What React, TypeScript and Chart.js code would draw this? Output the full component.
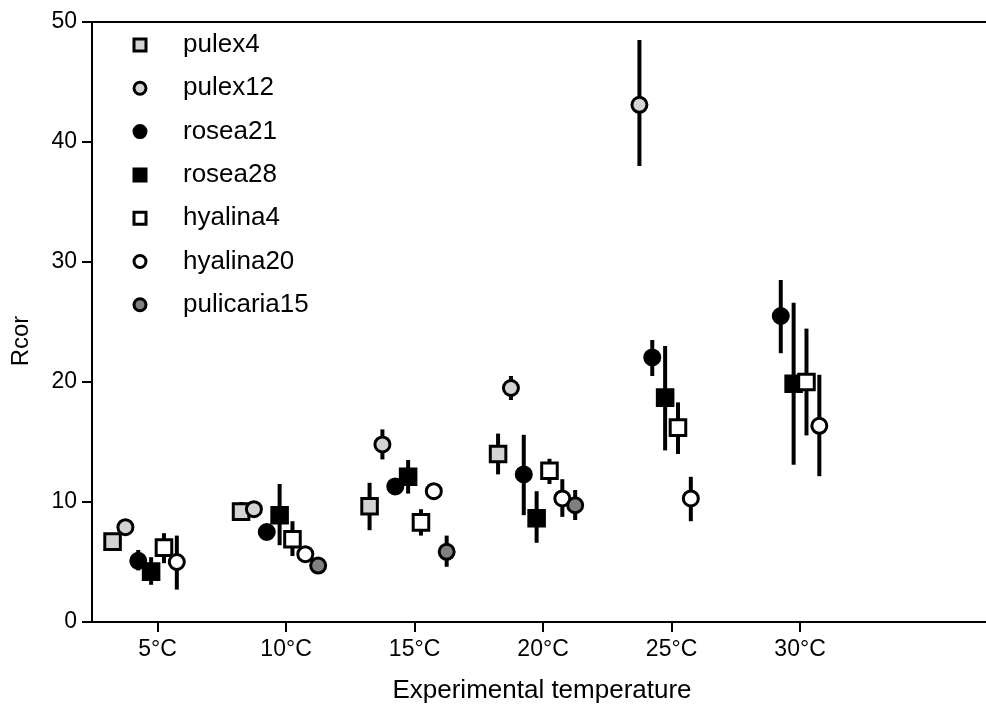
import React, { useEffect, useRef } from "react";
import { Chart, registerables } from "chart.js";

Chart.register(...registerables);

const categories = ["5°C", "10°C", "15°C", "20°C", "25°C", "30°C"];
const seriesNames = ["pulex4", "pulex12", "rosea21", "rosea28", "hyalina4", "hyalina20", "pulicaria15"];
const offsets = [-0.35, -0.25, -0.15, -0.05, 0.05, 0.15, 0.25];

const pulex4 = [6.7, 9.2, 9.65, 14.0, null, null];
const pulex4Lo = [6.2, 8.5, 7.65, 12.3, null, null];
const pulex4Hi = [7.2, 10.0, 11.6, 15.7, null, null];

const pulex12 = [7.9, 9.4, 14.8, 19.5, 43.1, null];
const pulex12Lo = [7.6, 9.0, 13.55, 18.5, 38.0, null];
const pulex12Hi = [8.2, 9.8, 16.05, 20.5, 48.5, null];

const rosea21 = [5.1, 7.5, 11.3, 12.3, 22.05, 25.5];
const rosea21Lo = [4.3, 7.1, 10.9, 8.9, 20.5, 22.4];
const rosea21Hi = [6.0, 7.9, 11.7, 15.6, 23.5, 28.5];

const rosea28 = [4.2, 8.9, 12.1, 8.65, 18.7, 19.85];
const rosea28Lo = [3.1, 6.4, 10.7, 6.6, 14.3, 13.1];
const rosea28Hi = [5.4, 11.5, 13.5, 10.9, 23.0, 26.6];

const hyalina4 = [6.2, 6.9, 8.3, 12.6, 16.2, 20.0];
const hyalina4Lo = [4.9, 5.5, 7.2, 11.5, 14.0, 15.55];
const hyalina4Hi = [7.4, 8.4, 9.4, 13.6, 18.3, 24.45];

const hyalina20 = [5.0, 5.65, 10.9, 10.3, 10.3, 16.35];
const hyalina20Lo = [2.7, 5.2, 10.5, 8.76, 8.4, 12.15];
const hyalina20Hi = [7.2, 6.1, 11.3, 11.9, 12.1, 20.6];

const pulicaria15 = [null, 4.7, 5.85, 9.73, null, null];
const pulicaria15Lo = [null, 4.3, 4.6, 8.5, null, null];
const pulicaria15Hi = [null, 5.1, 7.2, 11.0, null, null];

const yTicks = [0, 10, 20, 30, 40, 50];

const values = [pulex4, pulex12, rosea21, rosea28, hyalina4, hyalina20, pulicaria15];
const lows = [pulex4Lo, pulex12Lo, rosea21Lo, rosea28Lo, hyalina4Lo, hyalina20Lo, pulicaria15Lo];
const highs = [pulex4Hi, pulex12Hi, rosea21Hi, rosea28Hi, hyalina4Hi, hyalina20Hi, pulicaria15Hi];

const fills = ["#d3d3d3", "#d3d3d3", "#000000", "#000000", "#ffffff", "#ffffff", "#808080"];
const shapes = ["rect", "circle", "circle", "rect", "rect", "circle", "circle"];

const FONT = "'Liberation Sans', Arial, sans-serif";
const X_TITLE = "Experimental temperature";
const Y_TITLE = "Rcor";

const errorBarPlugin = {
  id: "errorBars",
  beforeDatasetsDraw(chart: any) {
    const { ctx, scales } = chart;
    ctx.save();
    ctx.strokeStyle = "#000";
    ctx.lineWidth = 4;
    ctx.lineCap = "butt";
    values.forEach((_, s) => {
      categories.forEach((_c, i) => {
        const lo = lows[s][i];
        const hi = highs[s][i];
        if (lo == null || hi == null) return;
        const x = scales.x.getPixelForValue(i + offsets[s]);
        ctx.beginPath();
        ctx.moveTo(x, scales.y.getPixelForValue(lo));
        ctx.lineTo(x, scales.y.getPixelForValue(hi));
        ctx.stroke();
      });
    });
    ctx.restore();
  },
};

const framePlugin = {
  id: "frameTop",
  afterDraw(chart: any) {
    const { ctx, chartArea } = chart;
    ctx.save();
    ctx.strokeStyle = "#000";
    ctx.lineWidth = 2;
    ctx.beginPath();
    ctx.moveTo(chartArea.left, chartArea.top);
    ctx.lineTo(chartArea.right, chartArea.top);
    ctx.stroke();
    ctx.fillStyle = "#000";
    ctx.font = `26px ${FONT}`;
    ctx.textAlign = "center";
    ctx.textBaseline = "middle";
    ctx.fillText(X_TITLE, 542, 691);
    ctx.font = `24px ${FONT}`;
    ctx.translate(21, 341);
    ctx.rotate(-Math.PI / 2);
    ctx.fillText(Y_TITLE, 0, 0);
    ctx.restore();
  },
};

const legendPlugin = {
  id: "insideLegend",
  afterDraw(chart: any) {
    const { ctx } = chart;
    ctx.save();
    ctx.font = `26px ${FONT}`;
    ctx.textBaseline = "middle";
    seriesNames.forEach((name, s) => {
      const y = 45 + s * 43.3;
      const x = 140;
      ctx.beginPath();
      ctx.lineWidth = 3;
      ctx.strokeStyle = "#000";
      ctx.fillStyle = fills[s];
      if (shapes[s] === "rect") {
        ctx.rect(x - 6, y - 6, 12, 12);
      } else {
        ctx.arc(x, y, 6, 0, Math.PI * 2);
      }
      ctx.fill();
      ctx.stroke();
      ctx.fillStyle = "#000";
      ctx.fillText(name, 183, y);
    });
    ctx.restore();
  },
};

export default function App() {
  const ref = useRef<HTMLCanvasElement | null>(null);
  useEffect(() => {
    document.body.style.margin = "0";
    const canvas = ref.current!;
    const datasets = values.map((vals, s) => ({
      label: seriesNames[s],
      data: vals
        .map((v, i) => (v == null ? null : { x: i + offsets[s], y: v }))
        .filter((p) => p !== null),
      pointStyle: shapes[s],
      pointRadius: shapes[s] === "rect" ? 11 : 7.5,
      pointHoverRadius: shapes[s] === "rect" ? 11 : 7.5,
      pointBackgroundColor: fills[s],
      pointBorderColor: "#000",
      pointBorderWidth: 3,
      showLine: false,
      order: 10 - s,
    }));
    const chart = new Chart(canvas, {
      type: "scatter",
      data: { datasets: datasets as any },
      options: {
        animation: false,
        responsive: false,
        maintainAspectRatio: false,
        layout: { autoPadding: false, padding: { top: 22, right: 0, left: 0, bottom: 0 } },
        plugins: { legend: { display: false }, tooltip: { enabled: false } },
        scales: {
          x: {
            type: "linear",
            min: -0.51,
            max: 6.447,
            afterBuildTicks(scale: any) {
              scale.ticks = categories.map((_, i) => ({ value: i }));
            },
            ticks: {
              autoSkip: false,
              maxRotation: 0,
              color: "#000",
              font: { family: FONT, size: 23 },
              padding: 4,
              callback: (v: any) => categories[Math.round(Number(v))] ?? "",
            },
            grid: { drawOnChartArea: false, tickLength: 10, color: "#000", lineWidth: 2 },
            border: { color: "#000", width: 2 },
            afterFit(scale: any) {
              scale.height = 87;
              scale.paddingLeft = 0;
              scale.paddingRight = 0;
            },
          },
          y: {
            min: 0,
            max: 50,
            afterBuildTicks(scale: any) {
              scale.ticks = yTicks.map((v) => ({ value: v }));
            },
            ticks: {
              color: "#000",
              font: { family: FONT, size: 23 },
              padding: 5,
            },
            grid: { drawOnChartArea: false, tickLength: 10, color: "#000", lineWidth: 2 },
            border: { color: "#000", width: 2 },
            afterFit(scale: any) {
              scale.width = 92;
              scale.paddingTop = 0;
              scale.paddingBottom = 0;
            },
          },
        },
      },
      plugins: [errorBarPlugin, framePlugin, legendPlugin],
    });
    return () => chart.destroy();
  }, []);
  return <canvas ref={ref} width={986} height={709} style={{ display: "block" }} />;
}
